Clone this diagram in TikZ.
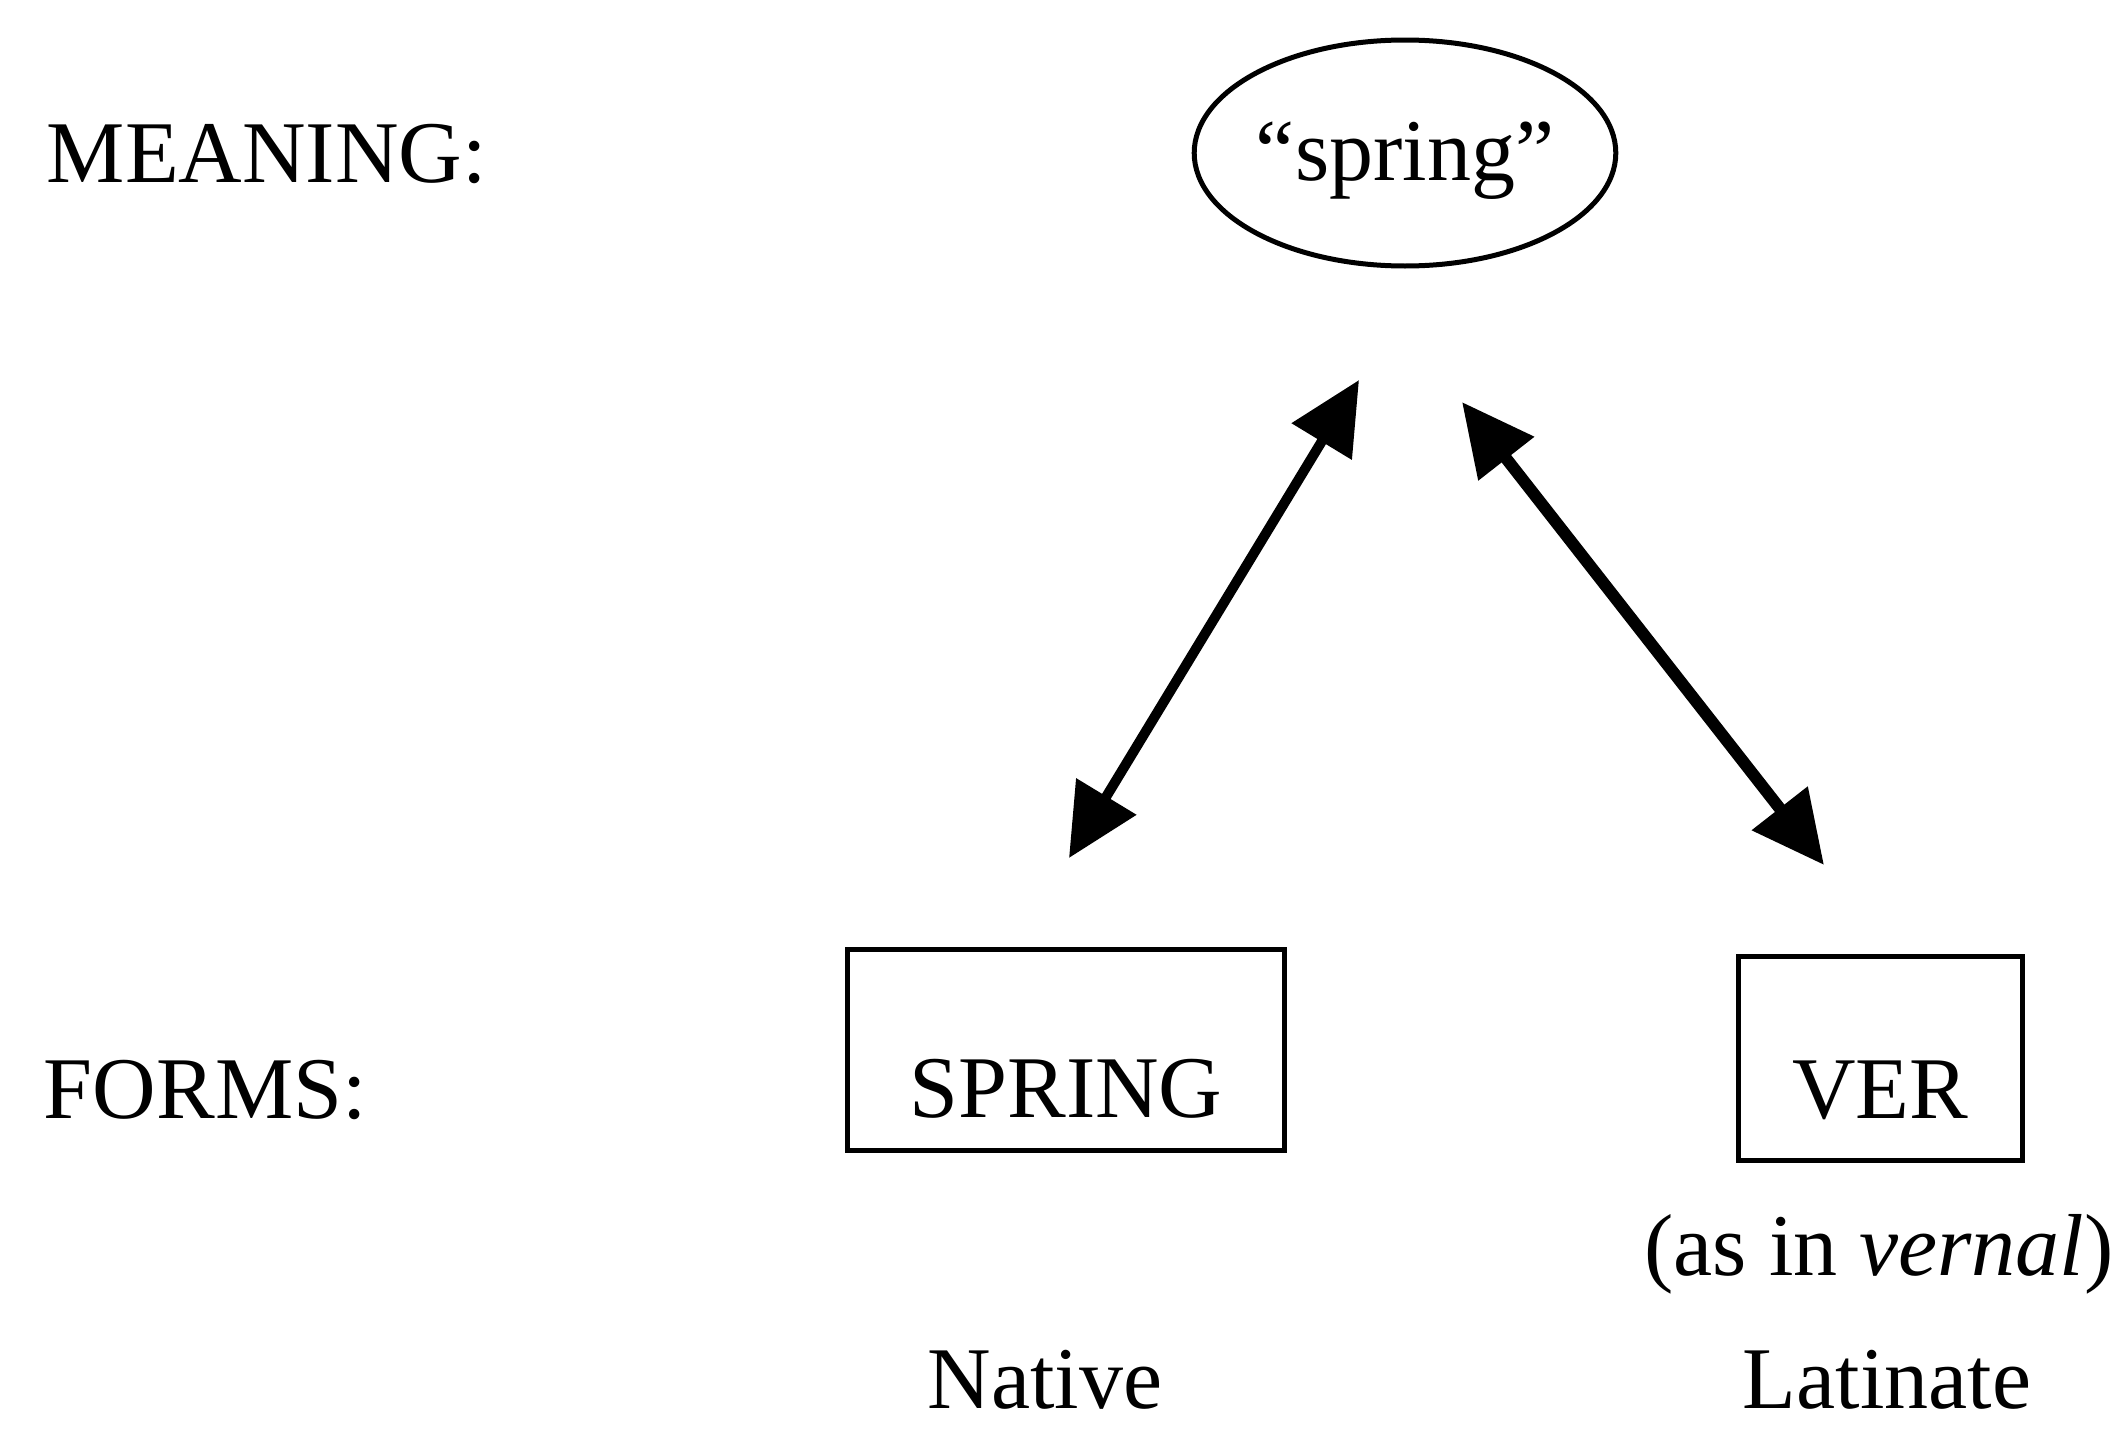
\documentclass[tikz,border=0pt]{standalone}
\usepackage{fontspec}
\setmainfont{Liberation Serif}
\usetikzlibrary{arrows.meta,shapes.geometric}

\tikzset{
  lbl/.style={inner sep=0pt, font=\fontsize{88}{100}\selectfont},
  meaningnode/.style={draw, line width=5pt, ellipse, inner sep=0pt,
    minimum width=420pt, minimum height=226pt,
    text height=70pt, text depth=16pt,
    font=\fontsize{88}{100}\selectfont},
  formbox/.style={draw, line width=5pt, rectangle, inner sep=0pt,
    font=\fontsize{88}{100}\selectfont},
  link/.style={{Triangle[length=72pt,width=68pt]}-{Triangle[length=72pt,width=68pt]}}
}

\begin{document}
\begin{tikzpicture}[x=1pt,y=-1pt]
  \useasboundingbox (0,0) rectangle (2121,1432);

  % row labels
  \node[lbl, anchor=base east] (meaninglbl) at (487,182) {MEANING:};
  \node[lbl, anchor=base east] (formslbl) at (367,1118) {FORMS:};

  % the meaning
  \node[meaningnode] (meaning) at (1405,153) {“spring”};

  % the two forms
  \node[formbox, minimum width=437pt, minimum height=201pt,
        text height=150pt, text depth=16pt] (native) at (1066,1050) {SPRING};
  \node[formbox, minimum width=284pt, minimum height=204pt,
        text height=136pt, text depth=16pt] (latin) at (1880,1058) {VER};

  \node[lbl, anchor=base] (example) at (1879,1275) {(as in \textit{vernal})};
  \node[lbl, anchor=base] (nativelbl) at (1045,1408) {Native};
  \node[lbl, anchor=base] (latinlbl) at (1887,1408) {Latinate};

  % arrow ends
  \coordinate (a1top) at (1359,380);
  \coordinate (a1bot) at (1069,858);
  \coordinate (a2top) at (1462,402);
  \coordinate (a2bot) at (1824,865);

  \draw[link, line width=10pt] (a1top) -- (a1bot);
  \draw[link, line width=12pt] (a2top) -- (a2bot);
\end{tikzpicture}
\end{document}
